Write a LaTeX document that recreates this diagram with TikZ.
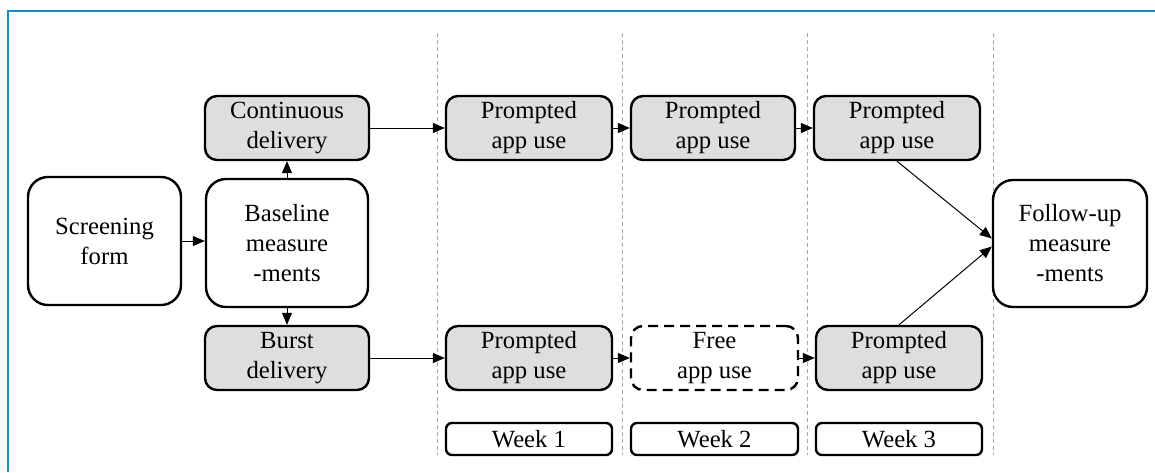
\documentclass[tikz,border=0pt]{standalone}
\usepackage{fontspec}
\setmainfont{Liberation Serif}
\newfontfamily\tnr{Liberation Serif}
\usetikzlibrary{arrows.meta,calc}
\definecolor{framecol}{HTML}{1A8AC6}
\definecolor{boxfill}{HTML}{DEDEDE}
\definecolor{guidecol}{HTML}{AAAAAA}
\begin{document}
\begin{tikzpicture}[x=0.5pt,y=-0.5pt,
  every node/.style={font=\tnr\fontsize{12.35}{15}\selectfont, align=center, inner sep=0pt},
  box/.style={draw, line width=1.2pt, rounded corners=6pt},
  shaded/.style={box, fill=boxfill},
  big/.style={box, rounded corners=10pt},
  freebox/.style={box, dash pattern=on 5pt off 3pt},
  weekbox/.style={box, rounded corners=3pt, minimum width=83pt, minimum height=16pt},
  sbox/.style={minimum width=82pt, minimum height=32pt},
  conn/.style={line width=0.5pt, -{Triangle[length=6pt,width=5pt]}},
  guide/.style={guidecol, line width=0.5pt, dash pattern=on 2pt off 1.5pt}
]
\useasboundingbox (0,0) rectangle (1155,472);
% frame
\draw[framecol, line width=1.2pt] (8,472) -- (8,11) -- (1155,11);
% guides
\foreach \x in {437,622,807,993} \draw[guide] (\x,33) -- (\x,455);
% nodes
\node[big, fill=white, minimum width=76.5pt, minimum height=64pt] (sc) at (104.5,241) {Screening\\form};
\node[big, fill=white, minimum width=81pt, minimum height=64pt] (bl) at (287,243) {Baseline\\measure\\-ments};
\node[shaded, sbox] (cd) at (287,128) {Continuous\\delivery};
\node[shaded, sbox] (bd) at (287,358) {Burst\\delivery};
\node[shaded, sbox, minimum width=83pt] (p1) at (529,128) {Prompted\\app use};
\node[shaded, sbox] (p2) at (713,128) {Prompted\\app use};
\node[shaded, sbox, minimum width=83pt] (p3) at (897,128) {Prompted\\app use};
\node[shaded, sbox, minimum width=83pt] (q1) at (529,358) {Prompted\\app use};
\node[freebox, sbox, minimum width=83.5pt] (fr) at (714.5,358) {Free\\app use};
\node[shaded, sbox, minimum width=83pt] (q3) at (899,358) {Prompted\\app use};
\node[big, fill=white, minimum width=77pt, minimum height=63.5pt] (fu) at (1070,243.5) {Follow-up\\measure\\-ments};
\node[weekbox] (w1) at (529,439) {Week 1};
\node[weekbox, minimum width=83.5pt] (w2) at (714.5,439) {Week 2};
\node[weekbox] (w3) at (899,439) {Week 3};
% connectors
\draw[conn] (sc.east) -- (sc.east -| bl.west);
\draw[conn] (bl.north) -- (cd.south);
\draw[conn] (bl.south) -- (bd.south |- bd.north);
\draw[conn] (cd.east) -- (p1.west);
\draw[conn] (p1.east) -- (p2.west);
\draw[conn] (p2.east) -- (p3.west);
\draw[conn] (bd.east) -- (q1.west);
\draw[conn] (q1.east) -- (fr.west);
\draw[conn] (fr.east) -- (q3.west);
\draw[conn] (p3.south) -- ($(fu.west)+(0,-5)$);
\draw[conn] (q3.north) -- ($(fu.west)+(0,3)$);
\end{tikzpicture}
\end{document}
